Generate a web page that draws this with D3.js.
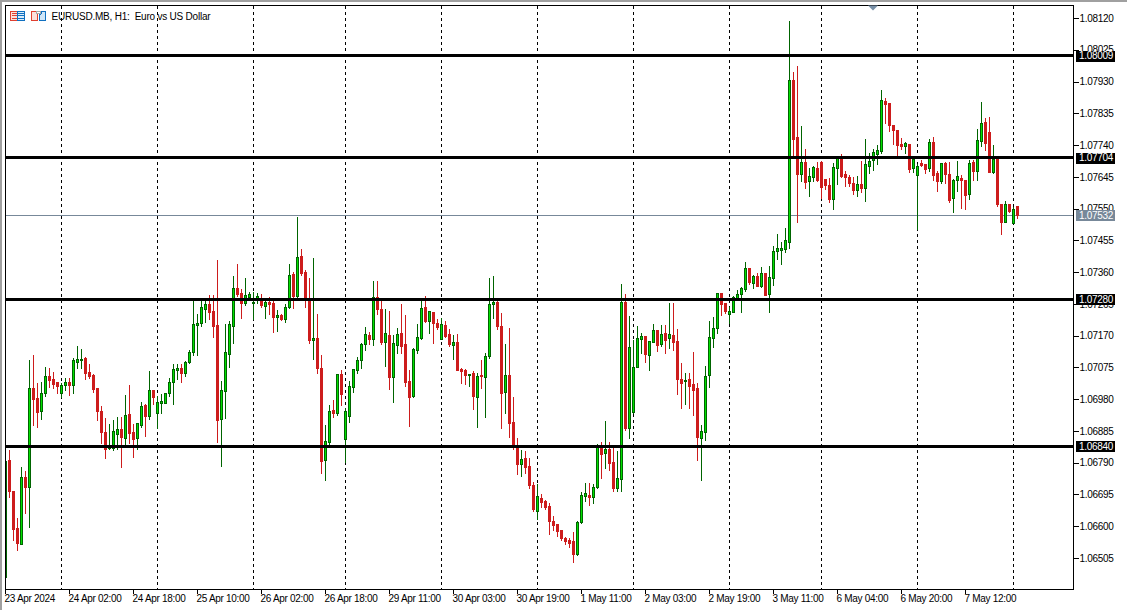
<!DOCTYPE html>
<html><head><meta charset="utf-8">
<script src="https://cdn.jsdelivr.net/npm/d3@7/dist/d3.min.js"></script>
<style>
html,body{margin:0;padding:0;background:#fff;overflow:hidden}
svg{display:block}
text{font-family:"Liberation Sans",sans-serif;font-size:10px;letter-spacing:-0.3px;fill:#000}
</style></head><body><svg id="c" width="1127" height="610"></svg>
<script>
const opens=[106450,106800,106707,106596,106548,106749,106719,107015,106985,106946,107000,107051,107042,107033,107000,107024,107033,107024,107093,107099,107105,107063,107054,107015,106946,106883,106835,106835,106877,106892,106865,106937,106883,106865,106904,106964,106931,107009,106940,106970,106970,107000,107033,107069,107075,107060,107093,107123,107203,107209,107251,107266,107245,107203,106922,107006,107117,107200,107314,107299,107269,107287,107270,107281,107284,107260,107272,107269,107227,107233,107221,107257,107356,107290,107410,107362,107284,107158,107164,107075,106800,106853,106949,106940,107057,106862,106931,107018,107069,107099,107146,107173,107161,107287,107251,107152,107173,107048,107143,107179,107146,107036,106991,107129,107164,107257,107215,107242,107209,107161,107203,107176,107143,107152,107072,107069,107054,107060,106988,107054,107048,107111,107266,107272,107200,107003,107054,106913,106838,106788,106806,106782,106725,106647,106686,106677,106662,106617,106608,106590,106566,106560,106557,106519,106614,106692,106695,106689,106719,106838,106821,106832,106794,106716,106743,107272,106895,106943,107078,107161,107170,107114,107152,107188,107146,107179,107164,107173,107155,107042,107036,107042,107027,107015,106865,106883,107054,107164,107194,107299,107269,107236,107242,107284,107296,107311,107374,107329,107350,107320,107359,107296,107344,107425,107428,107430,107451,107936,107765,107655,107691,107634,107646,107673,107691,107640,107622,107580,107673,107700,107655,107646,107628,107607,107625,107613,107679,107697,107715,107724,107873,107867,107801,107786,107744,107738,107744,107673,107652,107688,107685,107673,107750,107658,107634,107688,107655,107583,107637,107643,107637,107595,107691,107664,107753,107810,107780,107661,107700,107565,107511,107565,107508,107559];
const highs=[106797,106832,106707,106629,106782,106770,107102,107117,107033,107036,107081,107078,107066,107033,107033,107048,107048,107108,107143,107134,107111,107090,107060,107015,106964,106928,106910,106922,106931,106931,106997,107027,106910,106913,106976,106970,107069,107009,106994,107000,107003,107048,107090,107090,107090,107099,107131,107278,107239,107287,107284,107296,107296,107401,107039,107209,107218,107353,107389,107314,107347,107305,107305,107302,107299,107284,107290,107284,107251,107239,107269,107389,107365,107529,107433,107371,107347,107407,107239,107117,106907,106967,106982,107060,107072,106958,107039,107072,107111,107152,107200,107185,107338,107338,107284,107254,107248,107176,107197,107269,107236,107072,107137,107209,107287,107293,107248,107245,107224,107227,107218,107194,107176,107179,107078,107075,107060,107069,107063,107102,107123,107347,107353,107281,107242,107149,107197,106991,106868,106832,106830,106809,106737,106731,106701,106683,106674,106635,106611,106593,106572,106569,106587,106620,106707,106734,106734,106731,106850,106856,106919,106856,106841,106830,107329,107299,107233,107161,107203,107182,107170,107158,107209,107191,107206,107206,107272,107272,107194,107093,107063,107063,107126,107033,106907,107084,107218,107230,107299,107299,107272,107260,107293,107311,107320,107395,107377,107356,107362,107380,107362,107383,107442,107478,107454,107496,108115,107963,107981,107801,107732,107676,107682,107694,107697,107643,107646,107691,107709,107718,107667,107655,107649,107652,107697,107762,107721,107732,107744,107909,107885,107870,107801,107789,107765,107753,107747,107706,107688,107700,107688,107762,107768,107667,107691,107694,107694,107643,107697,107655,107640,107700,107700,107792,107873,107825,107828,107744,107706,107568,107577,107565,107559,107559];
const lows=[106447,106689,106560,106531,106548,106641,106599,106904,106898,106922,106991,107018,107015,107000,106988,107009,106994,107000,107075,107075,107042,107045,107003,106919,106850,106806,106832,106830,106832,106779,106844,106850,106809,106832,106898,106871,106922,106967,106895,106940,106970,106991,106967,107042,107033,107051,107090,107114,107114,107200,107212,107221,107167,106853,106782,106925,107078,107149,107290,107224,107263,107281,107221,107269,107257,107224,107236,107182,107185,107218,107212,107254,107254,107287,107353,107257,107149,107102,107060,106761,106740,106844,106928,106934,106964,106794,106913,107003,107060,107075,107129,107146,107143,107236,107146,107081,107012,106973,107120,107120,107021,106901,106988,107120,107161,107212,107179,107149,107191,107161,107167,107140,107102,107069,107030,107027,107021,106952,106898,107015,106928,107105,107224,107191,106895,106940,106868,106832,106758,106752,106761,106716,106647,106623,106659,106653,106578,106590,106572,106560,106548,106539,106495,106516,106611,106677,106665,106671,106716,106746,106776,106770,106707,106707,106707,106889,106865,106940,107078,107120,107093,107069,107152,107126,107140,107120,107134,107129,106997,106955,106967,106955,106934,106800,106740,106859,107018,107137,107179,107233,107239,107209,107242,107284,107242,107305,107326,107314,107320,107317,107293,107242,107323,107401,107386,107422,107433,107706,107511,107634,107613,107589,107634,107634,107583,107610,107571,107550,107625,107646,107619,107619,107595,107589,107601,107574,107658,107667,107685,107718,107807,107783,107744,107706,107729,107718,107661,107661,107490,107679,107658,107664,107637,107604,107628,107628,107571,107541,107604,107553,107550,107580,107637,107637,107738,107727,107661,107658,107559,107475,107511,107541,107508,107523];
const closes=[106797,106707,106593,106551,106749,106719,107015,106982,106943,107000,107051,107039,107027,107021,107024,107033,107024,107099,107102,107102,107060,107051,107012,106946,106883,106832,106838,106886,106892,106868,106934,106880,106862,106910,106961,106931,107009,106988,106973,106976,107000,107033,107072,107075,107060,107093,107123,107206,107209,107257,107266,107242,107200,106919,107009,107123,107206,107314,107296,107269,107293,107296,107272,107290,107263,107272,107266,107227,107233,107221,107257,107353,107290,107407,107359,107284,107158,107164,107075,106797,106856,106946,106940,107057,106997,106946,107021,107072,107099,107146,107176,107161,107287,107251,107152,107179,107048,107149,107176,107140,107033,106988,107131,107167,107254,107215,107245,107209,107197,107206,107170,107146,107152,107069,107066,107054,107057,106991,107051,107051,107111,107266,107272,107200,107000,107054,106910,106841,106788,106803,106779,106725,106653,106692,106674,106659,106617,106605,106587,106566,106557,106551,106519,106614,106695,106701,106689,106719,106838,106818,106832,106791,106716,106746,107272,106895,107137,107078,107164,107170,107117,107155,107188,107143,107176,107158,107176,107152,107042,107030,107039,107021,107009,106868,106886,107051,107167,107194,107299,107266,107245,107245,107287,107296,107314,107374,107332,107350,107320,107359,107293,107347,107425,107433,107433,107457,107936,107759,107655,107691,107631,107649,107676,107637,107616,107622,107580,107676,107703,107649,107646,107628,107607,107625,107613,107685,107694,107721,107727,107876,107864,107801,107786,107741,107738,107747,107670,107700,107679,107682,107670,107750,107652,107634,107688,107655,107577,107637,107649,107637,107592,107688,107664,107756,107807,107747,107661,107700,107565,107511,107565,107544,107550,107532];
const levels=[108009,107704,107280,106840];
const lastPrice=107532;
const priceTicks=[108120,108025,107930,107835,107740,107645,107550,107455,107360,107265,107170,107075,106980,106885,106790,106695,106600,106505];
const timeTickIdx=[0,16,32,48,64,80,96,112,128,144,160,176,192,208,224,240];
const timeTickLabels=["23 Apr 2024","24 Apr 02:00","24 Apr 18:00","25 Apr 10:00","26 Apr 02:00","26 Apr 18:00","29 Apr 11:00","30 Apr 03:00","30 Apr 19:00","1 May 11:00","2 May 03:00","2 May 19:00","3 May 11:00","6 May 04:00","6 May 20:00","7 May 12:00"];
const dayGridIdx=[14,38,62,85,109,133,157,181,204,228,252];
const chartTitle="EURUSD.MB, H1:  Euro vs US Dollar";

const pL=5.5,pR=1073.5,pT=5.5,pB=589.5;
const x=d3.scaleLinear().domain([0,253]).range([5.5,1017.5]);
const y=d3.scaleLinear().domain([108120,106505]).range([18.5,558.5]);
const px=v=>Math.round(y(v))+0.5;
const svg=d3.select("#c");

svg.append("rect").attr("x",0).attr("y",0).attr("width",1127).attr("height",2).attr("fill","#a0a0a0");
svg.append("rect").attr("x",0).attr("y",0).attr("width",2).attr("height",610).attr("fill","#a0a0a0");

const grid=svg.append("g");
grid.selectAll("line").data(dayGridIdx).join("line")
 .attr("x1",d=>x(d)).attr("x2",d=>x(d)).attr("y1",pT).attr("y2",pB)
 .attr("stroke","#000").attr("stroke-dasharray","3,3").attr("shape-rendering","crispEdges");

svg.append("line").attr("x1",pL).attr("x2",pR).attr("y1",Math.floor(y(lastPrice))+0.5).attr("y2",Math.floor(y(lastPrice))+0.5)
 .attr("stroke","#778899").attr("stroke-width",1).attr("shape-rendering","crispEdges");

svg.append("clipPath").attr("id","plot").append("rect").attr("x",pL).attr("y",pT).attr("width",pR-pL).attr("height",pB-pT);
const candles=svg.append("g").attr("clip-path","url(#plot)").attr("shape-rendering","crispEdges");
const idx=d3.range(opens.length);
const up=i=>closes[i]>=opens[i];
candles.selectAll("line").data(idx).join("line")
 .attr("x1",i=>x(i)).attr("x2",i=>x(i))
 .attr("y1",i=>px(highs[i])).attr("y2",i=>px(lows[i]))
 .attr("stroke",i=>up(i)?"#006400":"#cd1c1c");
candles.selectAll("rect").data(idx).join("rect")
 .attr("x",i=>x(i)-1).attr("width",2)
 .attr("y",i=>px(Math.max(opens[i],closes[i])))
 .attr("height",i=>Math.max(1,px(Math.min(opens[i],closes[i]))-px(Math.max(opens[i],closes[i]))))
 .attr("fill",i=>up(i)?"#00e000":"#cd1c1c")
 .attr("stroke",i=>up(i)?"#006400":"#cd1c1c");

svg.append("g").selectAll("line").data(levels).join("line")
 .attr("x1",pL).attr("x2",pR).attr("y1",d=>y(d)).attr("y2",d=>y(d))
 .attr("stroke","#000").attr("stroke-width",3).attr("shape-rendering","crispEdges");

svg.append("rect").attr("x",pL).attr("y",pT).attr("width",pR-pL).attr("height",pB-pT)
 .attr("fill","none").attr("stroke","#000").attr("shape-rendering","crispEdges");

const yAxis=svg.append("g").attr("transform",`translate(${pR},0)`)
 .call(d3.axisRight(y).offset(0).tickValues(priceTicks).tickSize(5).tickPadding(1).tickFormat(d=>(d/1e5).toFixed(5)));
yAxis.select(".domain").remove();
yAxis.selectAll("line").attr("stroke","#000").attr("shape-rendering","crispEdges");
yAxis.attr("font-size",null).attr("font-family",null);

const timeScale=d3.scaleOrdinal().domain(timeTickIdx).range(timeTickIdx.map(i=>x(i)));
const xAxis=svg.append("g").attr("transform",`translate(0,${pB})`)
 .call(d3.axisBottom(timeScale).offset(0).tickValues(timeTickIdx).tickSize(4).tickFormat((d,k)=>timeTickLabels[k]));
xAxis.select(".domain").remove();
xAxis.attr("font-size",null).attr("font-family",null);
xAxis.selectAll("line").attr("stroke","#000").attr("shape-rendering","crispEdges");
xAxis.selectAll("text").attr("text-anchor","start").attr("x",-1).attr("y",5).attr("dy","0.71em");

const tags=[...levels.map(v=>({v,bg:"#000"})),{v:lastPrice,bg:"#778899"}];
const tag=svg.append("g").selectAll("g").data(tags).join("g");
tag.append("rect").attr("x",1076).attr("width",39).attr("height",11).attr("y",d=>Math.round(y(d.v))-5).attr("fill",d=>d.bg);
tag.append("text").attr("x",1079).attr("y",d=>y(d.v)+3.8).style("fill","#fff").text(d=>(d.v/1e5).toFixed(5));

svg.append("text").attr("x",51.5).attr("y",20).attr("xml:space","preserve").style("white-space","pre").style("letter-spacing","-0.22px").text(chartTitle);

const ic=svg.append("g").attr("shape-rendering","crispEdges").attr("fill","none");
ic.append("rect").attr("x",10.5).attr("y",11.5).attr("width",7).attr("height",9).attr("stroke","#e04030").attr("fill","#fbe0dc");
ic.append("rect").attr("x",17.5).attr("y",11.5).attr("width",7).attr("height",9).attr("stroke","#1070c0").attr("fill","#d8ecfa");
[13.5,15.5,18].forEach(yy=>{
 ic.append("line").attr("x1",12).attr("x2",17).attr("y1",yy).attr("y2",yy).attr("stroke","#e04030");
 ic.append("line").attr("x1",18).attr("x2",24).attr("y1",yy).attr("y2",yy).attr("stroke","#1070c0");
});
ic.append("path").attr("d","M31.5 11.5H35.5L37.5 14V20.5H31.5Z").attr("stroke","#e04030").attr("fill","#fbe0dc");
ic.append("path").attr("d","M39.5 14.5L41.5 13.5V11.5H45.5V20.5H39.5Z").attr("stroke","#1070c0").attr("fill","#cfe6f8");
ic.append("rect").attr("x",36.5).attr("y",11.5).attr("width",4).attr("height",2).attr("stroke","#a8a8a8");

svg.append("path").attr("d","M868 5.5H878L873 10.5Z").attr("fill","#7890a8");
</script></body></html>
